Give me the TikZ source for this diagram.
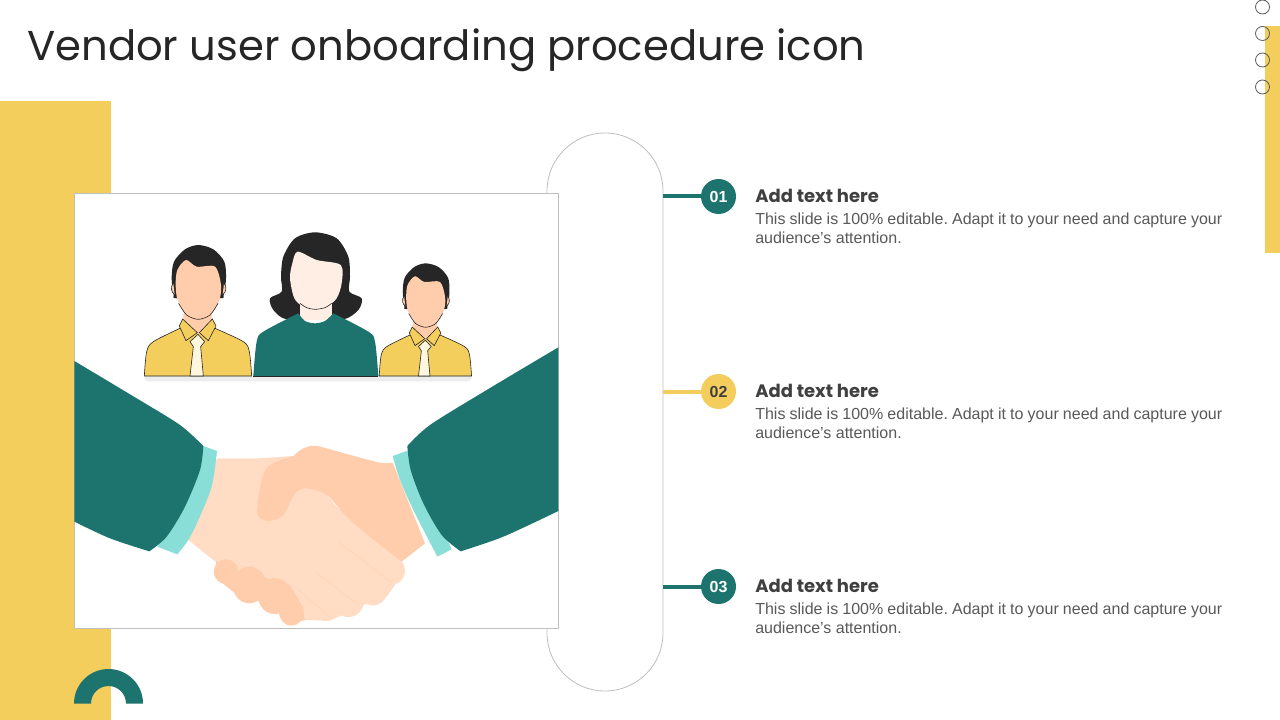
\documentclass[tikz,border=0pt]{standalone}
\usepackage{fontspec}
\setmainfont{Liberation Sans}
\newfontfamily\titlefont{Poppins}
\definecolor{tealc}{HTML}{1D746E}
\definecolor{yellowc}{HTML}{F4CE5C}
\definecolor{mintc}{HTML}{8ADED8}
\definecolor{skinc}{HTML}{FFCDAB}
\definecolor{skinl}{HTML}{FFDCC3}
\definecolor{skinw}{HTML}{FFEEE4}
\definecolor{hairc}{HTML}{262626}
\definecolor{tiec}{HTML}{FFF6DE}
\tikzset{
    badge/.style={circle, minimum size=26.25pt, inner sep=0pt, text=white, font=\fontsize{12}{14}\selectfont\bfseries},
    heading/.style={anchor=west, inner sep=0pt, text=black!75, font=\titlefont\fontsize{13.5}{16}\selectfont\bfseries},
    bodytext/.style={anchor=north west, inner sep=0pt, text width=350.25pt, align=justify, text=black!65, font=\fontsize{12}{14.25}\selectfont\frenchspacing},
    stem/.style={line width=3pt},
    outline/.style={draw=black!85, line width=.45pt},
    pics/man/.style={code={
        \begin{scope}[shift={(-205,-468)}]
        \fill[hairc] plot[smooth cycle] coordinates {(125,175) (132,125) (165,88) (205,75) (250,88) (283,125) (288,175) (281,225) (268,235) (142,235) (131,225)};
        \draw[outline, fill=skinc] (130,190) to[bend right=50] (134,224);
        \draw[outline, fill=skinc] (282,190) to[bend left=50] (278,224);
        \fill[skinc] plot[smooth cycle] coordinates {(137,195) (142,150) (168,120) (200,140) (255,140) (273,195) (268,240) (240,285) (205,298) (170,285) (143,240)};
        \draw[outline, fill=yellowc] plot[smooth] coordinates {(43,468) (50,395) (70,365) (150,325)} -- (255,325) -- plot[smooth] coordinates {(255,325) (340,365) (358,395) (365,468)} -- cycle;
        \fill[skinc] (160,280) -- (245,280) -- (245,320) -- (205,345) -- (160,320) -- cycle;
        \draw[outline] plot[smooth] coordinates {(146,250) (170,285) (205,298) (240,285) (264,250)};
        \draw[outline, fill=yellowc] (158,297) -- (202,338) -- (168,362) -- (148,318) -- cycle;
        \draw[outline, fill=yellowc] (247,297) -- (208,338) -- (235,362) -- (258,318) -- cycle;
        \draw[outline, fill=tiec] (180,468) -- (190,380) -- (180,365) -- (204,343) -- (224,365) -- (212,380) -- (220,468) -- cycle;
        \end{scope}
    }}
}
\begin{document}
\begin{tikzpicture}[x=.75pt, y=-.75pt]
    \useasboundingbox (0,0) rectangle (1280,720);
    \fill[white] (0,0) rectangle (1280,720);

    \fill[yellowc] (0,101) rectangle (111,720);
    \fill[yellowc] (1265,26) rectangle (1280,253);

    \draw[black!65, line width=.6pt] (1262.5,7) circle [radius=7];
    \draw[black!65, line width=.6pt] (1262.5,33.5) circle [radius=7];
    \draw[black!65, line width=.6pt] (1262.5,60) circle [radius=7];
    \draw[black!65, line width=.6pt] (1262.5,87) circle [radius=7];

    \fill[tealc] (74,703.5) arc [start angle=180, end angle=360, radius=34.5]
        -- (126,703.5) arc [start angle=0, end angle=-180, radius=17.5] -- cycle;

    \node[anchor=west, inner sep=0pt, text=black!85, font=\titlefont\fontsize{31.3}{36}\selectfont] (title) at (27,50) {Vendor user onboarding procedure icon};

    \node[draw=black!25, line width=.6pt, fill=white, minimum width=87pt, minimum height=418.5pt, rounded corners=43.5pt, inner sep=0pt] (pill) at (605,412) {};
    \node[draw=black!25, line width=.6pt, fill=white, minimum width=363.4pt, minimum height=326.25pt, inner sep=0pt] (photo) at (316.25,411) {};

    % people
    \begin{scope}[shift={(130,220)}, x=.25pt, y=-.25pt]
        \fill[black!7, rounded corners=3pt] (43,460) rectangle (1025,484);
        \fill[hairc] plot[smooth cycle] coordinates {(555,37) (620,55) (655,110) (660,170) (658,215) (695,235) (685,270) (640,298) (555,285) (470,298) (430,270) (420,235) (455,215) (453,170) (460,110) (495,55)};
        \fill[skinw] (510,230) -- (605,230) -- (605,300) -- (510,300) -- cycle;
        \fill[skinw] plot[smooth cycle] coordinates {(480,175) (487,130) (503,95) (560,120) (632,135) (635,190) (620,235) (590,260) (555,268) (520,260) (493,235)};
        \draw[outline] plot[smooth] coordinates {(510,250) (530,263) (555,268) (585,263) (605,250)};
        \fill[tealc] plot[smooth] coordinates {(370,468) (380,365) (400,335) (505,280)} -- plot[smooth] coordinates {(505,280) (525,303) (555,310) (585,303) (610,280)} -- plot[smooth] coordinates {(610,280) (715,335) (735,365) (745,468)} -- cycle;
        \draw[outline] (370,468) -- (745,468);
        \pic at (205,468) {man};
        \pic[scale=.86] at (887,468) {man};
    \end{scope}

    % handshake
    \begin{scope}[shift={(70,340)}, x=.25pt, y=-.25pt]
        \fill[skinl] plot[smooth] coordinates {(441,355) (560,355) (670,348)} -- (800,500)
            -- (995,665) -- (1000,700) -- (950,770) -- (880,795) -- (780,842) -- (705,840)
            -- (430,660) -- (355,600) -- cycle;
        \fill[skinl] (962,692) circle [radius=43];
        \fill[skinl] (908,752) circle [radius=44];
        \fill[skinl] (835,785) circle [radius=46];
        \fill[skinl] (765,805) circle [radius=38];
        \fill[skinc] plot[smooth] coordinates {(670,348) (700,325) (740,318) (830,342) (930,368) (968,368)}
            -- (1065,610) -- (995,665)
            -- plot[smooth] coordinates {(995,665) (900,590) (830,530) (770,465) (710,445) (675,460) (640,525) (595,543) (562,520) (575,420) (600,375) (670,348)} -- cycle;
        \fill[skinc] (438,662) -- (510,697) -- (545,682) -- (600,722) -- (660,735) -- (692,790) -- (705,840) -- (670,850) -- (625,805) -- (570,785) -- (495,760) -- (440,715) -- cycle;
        \fill[skinc] (468,695) circle [radius=37];
        \fill[skinc] (538,735) ellipse [x radius=50, y radius=55];
        \fill[skinc] (614,768) ellipse [x radius=50, y radius=54];
        \fill[skinc] (664,816) ellipse [x radius=37, y radius=41];
        \draw[skinc!55!skinl, line width=.4pt] (805,605) -- (960,725);
        \draw[skinc!55!skinl, line width=.4pt] (735,695) -- (860,790);
        \draw[skinc!55!skinl, line width=.4pt] (680,745) -- (785,835);

        \fill[mintc] (400,318) -- plot[smooth] coordinates {(441,333) (425,440) (385,540) (355,600) (322,643)} -- (262,620) -- cycle;
        \fill[mintc] (1012,332) -- (1145,628) -- plot[smooth] coordinates {(1102,650) (1030,510) (990,420) (968,348)} -- cycle;
        \fill[tealc] plot[smooth] coordinates {(13,63) (200,175) (330,255) (400,318)}
            -- plot[smooth] coordinates {(400,318) (390,390) (345,500) (290,590) (238,634)}
            -- plot[smooth] coordinates {(238,634) (120,595) (13,545)} -- cycle;
        \fill[tealc] plot[smooth] coordinates {(1465,22) (1250,150) (1080,255) (1012,318)}
            -- plot[smooth] coordinates {(1012,318) (1022,390) (1060,490) (1115,585) (1172,634)}
            -- plot[smooth] coordinates {(1172,634) (1300,590) (1465,513)} -- cycle;
    \end{scope}

    % items
    \node[badge, fill=tealc] (badge01) at (718.5,196.5) {01};
    \node[badge, fill=yellowc, text=black!75] (badge02) at (718.5,391.5) {02};
    \node[badge, fill=tealc] (badge03) at (718.5,586.5) {03};
    \draw[stem, tealc] (pill.east |- badge01) -- (badge01);
    \draw[stem, yellowc] (pill.east |- badge02) -- (badge02);
    \draw[stem, tealc] (pill.east |- badge03) -- (badge03);

    \node[heading] (head01) at (755,196) {Add text here};
    \node[bodytext] (text01) at (755,213) {This slide is 100\% editable. Adapt it to your need and capture your audience’s attention.};
    \node[heading] (head02) at (755,391) {Add text here};
    \node[bodytext] (text02) at (755,408) {This slide is 100\% editable. Adapt it to your need and capture your audience’s attention.};
    \node[heading] (head03) at (755,586) {Add text here};
    \node[bodytext] (text03) at (755,603) {This slide is 100\% editable. Adapt it to your need and capture your audience’s attention.};
\end{tikzpicture}
\end{document}
